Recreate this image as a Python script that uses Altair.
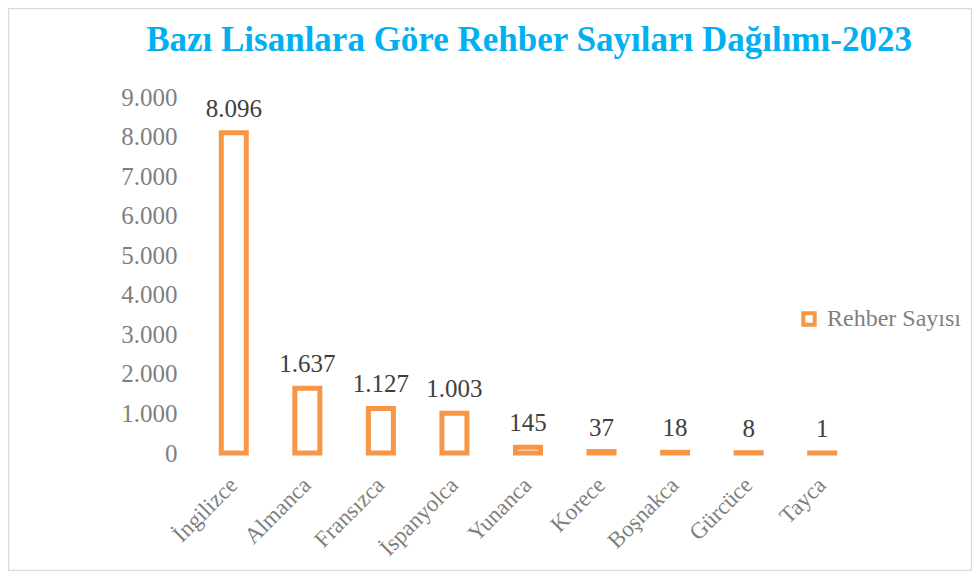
import altair as alt
import pandas as pd

languages = ["İngilizce", "Almanca", "Fransızca", "İspanyolca", "Yunanca",
             "Korece", "Boşnakca", "Gürcüce", "Tayca"]
guide_counts = [8096, 1637, 1127, 1003, 145, 37, 18, 8, 1]
series_name = "Rehber Sayısı"
y_ticks = [0, 1000, 2000, 3000, 4000, 5000, 6000, 7000, 8000, 9000]
title_text = "Bazı Lisanlara Göre Rehber Sayıları Dağılımı-2023"

df = pd.DataFrame({"Lisan": languages, "Sayi": guide_counts, "Seri": series_name})

ORANGE = "#F79646"
SERIF = "Liberation Serif"

x_enc = alt.X("Lisan:N", sort=languages, title=None,
              scale=alt.Scale(paddingInner=0.0, paddingOuter=0.0),
              axis=alt.Axis(labelAngle=-45, labelAlign="right", labelBaseline="middle",
                            labelPadding=28, labelOffset=0, ticks=False, domain=False,
                            labelFont=SERIF, labelFontSize=23, labelColor="#7f7f7f"))
y_enc = alt.Y("Sayi:Q", title=None,
              scale=alt.Scale(domain=[0, 9000], nice=False),
              axis=alt.Axis(values=y_ticks, grid=False, ticks=False, domain=False,
                            labelOverlap=False, labelPadding=20, labelFont=SERIF,
                            labelFontSize=25, labelColor="#7f7f7f",
                            labelExpr="replace(format(datum.value, ','), ',', '.')"))

base = alt.Chart(df)

bars = base.mark_bar(fill="white", strokeWidth=5, size=25).encode(
    x=x_enc, y=y_enc,
    stroke=alt.Stroke("Seri:N", scale=alt.Scale(domain=[series_name], range=[ORANGE]),
                      legend=alt.Legend(title=None, orient="none", legendX=600, legendY=210,
                                        symbolType="square", symbolSize=130,
                                        symbolStrokeWidth=4, symbolFillColor="white",
                                        labelFont=SERIF, labelFontSize=24,
                                        labelColor="#7f7f7f", padding=0, labelOffset=6)),
)

labels = base.transform_calculate(
    lbl="replace(format(datum.Sayi, ','), ',', '.')"
).mark_text(font=SERIF, fontSize=25, color="#404040", baseline="alphabetic", dy=-16).encode(
    x=x_enc, y=y_enc, text="lbl:N"
)

one = pd.DataFrame({"a": [0]})

border = alt.Chart(one).mark_rect(
    fill=None, stroke="#d9d9d9", strokeWidth=1.5
).encode(
    x=alt.value(-188.5), x2=alt.value(774.5), y=alt.value(-88.5), y2=alt.value(473.5)
)

title = alt.Chart(one).mark_text(
    font=SERIF, fontSize=35, fontWeight="bold", color="#00B0F0",
    align="center", baseline="alphabetic"
).encode(x=alt.value(332), y=alt.value(-46), text=alt.value(title_text))

chart = alt.layer(border, title, bars, labels).resolve_axis(y="shared").properties(
    width=662, height=356,
    autosize=alt.AutoSizeParams(type="none"),
    padding={"left": 189, "top": 89, "right": 113, "bottom": 118},
    background="white",
).configure_view(strokeWidth=0).configure_axis(labelOverlap=False)

chart.save("out.html", embed_options={"renderer": "svg", "actions": False})
